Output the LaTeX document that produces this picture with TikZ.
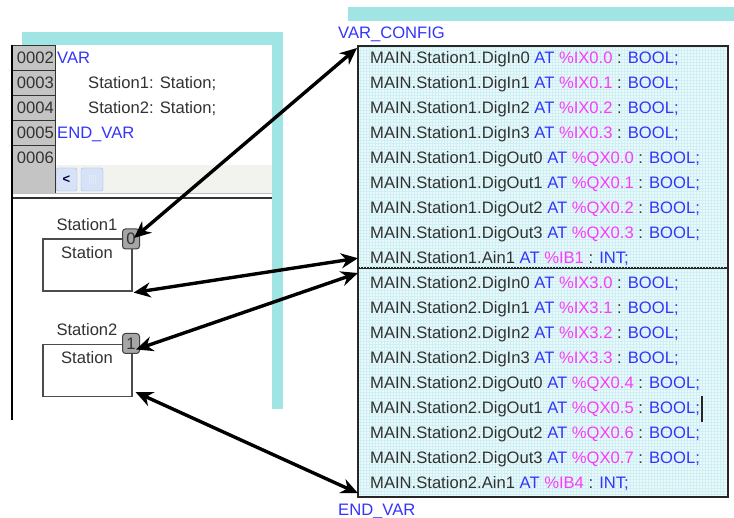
\documentclass[tikz,border=0pt]{standalone}
\usepackage{fontspec}
\setmainfont{Liberation Sans}
\usetikzlibrary{arrows.meta,patterns}

\definecolor{codeblue}{RGB}{52,52,250}
\definecolor{codemag}{RGB}{250,60,250}
\definecolor{codegray}{RGB}{50,50,50}
\definecolor{frameaqua}{RGB}{160,228,228}
\definecolor{cfgfill}{RGB}{236,249,251}
\definecolor{cfggrid}{RGB}{206,240,244}
\definecolor{gutter}{RGB}{196,196,196}
\definecolor{scrollbg}{RGB}{242,242,238}
\definecolor{btnfill}{RGB}{214,226,248}
\definecolor{btnedge}{RGB}{160,184,232}

\newcommand\codefont{\fontsize{16.6}{18}\selectfont}

% one line of the VAR_CONFIG listing: name, y baseline, variable, address, type
\newcommand\cfgrow[5]{%
  \node[code] (#1) at (370,#2) {MAIN.#3 \textcolor{codeblue}{AT} \textcolor{codemag}{\%#4} : \textcolor{codeblue}{#5;}};}

\begin{document}
\begin{tikzpicture}[x=1pt,y=-1pt,
  code/.style={anchor=base west, inner sep=0pt, font=\codefont, text=codegray},
  kw/.style={code, text=codeblue},
  lineno/.style={anchor=base east, inner sep=0pt, font=\codefont, text=codegray},
  numcell/.style={fill=gutter, draw=black!80, line width=0.9pt},
  fbbox/.style={draw=black!70, line width=1.2pt, fill=white, minimum width=89pt, minimum height=52pt, inner sep=0pt},
  badge/.style={draw=black!75, fill=black!35, rounded corners=3pt, line width=1pt,
                minimum width=17pt, minimum height=20pt, inner sep=0pt, font=\codefont, text=codegray},
  cfgbox/.style={draw=black!85, line width=1.2pt, anchor=north west, inner sep=0pt,
                 minimum width=369pt},
  conn/.style={line width=3.4pt, black, {Stealth[length=17pt,width=15pt]}-{Stealth[length=17pt,width=15pt]}}
]
\useasboundingbox (0,0) rectangle (734,518);
\clip (0,0) rectangle (734,518);
\fill[white] (0,0) rectangle (734,518);

% ---------- declaration editor (left) ----------
\fill[frameaqua] (22,32) rectangle (283,45);
\fill[frameaqua] (272,45) rectangle (283,409);
\fill[white] (12,45) rectangle (272,420);

% line number gutter
\foreach \k/\n in {0/0002,1/0003,2/0004,3/0005,4/0006}{
  \draw[numcell] (12,45+25*\k) rectangle (55,70+25*\k);
  \node[lineno] (ln\n) at (54,64+25*\k) {\n};
}
\node[kw] (kvar) at (57,64) {VAR};
\node[code] (decl1) at (88,89) {Station1: Station;};
\node[code] (decl2) at (88,114) {Station2: Station;};
\node[kw] (kend) at (57,139) {END\_VAR};

% horizontal scroll bar
\fill[scrollbg] (55,165) rectangle (272,193);
\fill[gutter] (12,163) rectangle (55,193);
\draw[black!80, line width=0.9pt] (55,163) -- (55,193);
\draw[rounded corners=2pt, fill=btnfill, draw=btnedge] (56.5,168) rectangle (77,191);
\node[font=\bfseries\fontsize{13}{13}\selectfont, text=black!75!blue, inner sep=0pt] (lbtn) at (66.5,179.5) {<};
\draw[rounded corners=2pt, fill=btnfill, draw=btnedge] (81,168) rectangle (103,191);
\foreach \gx in {89,91,93,95}{\draw[white!70!btnedge, line width=0.6pt] (\gx,175) -- (\gx,184);}
\draw[black!25, line width=1pt] (12,193.5) -- (272,193.5);
\draw[black!80, line width=2pt] (12,198.5) -- (272,198.5);
\draw[black, line width=1.3pt] (12,45) -- (12,420);

% function block instances
\node[code, anchor=base] (lab1) at (87,231) {Station1};
\node[fbbox] (st1) at (87.5,265) {};
\node[code, anchor=base] (typ1) at (87,259) {Station};
\node[badge] (b0) at (131,239) {0};

\node[code, anchor=base] (lab2) at (87,336) {Station2};
\node[fbbox] (st2) at (87.5,370.5) {};
\node[code, anchor=base] (typ2) at (87,364) {Station};
\node[badge] (b1) at (131,343.5) {1};

% ---------- configuration listing (right) ----------
\fill[frameaqua] (348,7) rectangle (734,21);
\node[kw] (vcfg) at (338,39) {VAR\_CONFIG};

\node[cfgbox, minimum height=221pt, fill=cfgfill] (cfg1) at (358,46) {};
\node[cfgbox, minimum height=229pt, fill=cfgfill] (cfg2) at (358,267) {};
\fill[pattern=grid, pattern color=cfggrid] (359,47) rectangle (726,495);
\draw[black!85, line width=1.2pt] (cfg1.north west) rectangle (cfg2.south east);
\draw[black!85, line width=1.2pt] (cfg1.south west) -- (cfg1.south east);

\cfgrow{c1}{64}{Station1.DigIn0}{IX0.0}{BOOL}
\cfgrow{c2}{89}{Station1.DigIn1}{IX0.1}{BOOL}
\cfgrow{c3}{114}{Station1.DigIn2}{IX0.2}{BOOL}
\cfgrow{c4}{139}{Station1.DigIn3}{IX0.3}{BOOL}
\cfgrow{c5}{164}{Station1.DigOut0}{QX0.0}{BOOL}
\cfgrow{c6}{189}{Station1.DigOut1}{QX0.1}{BOOL}
\cfgrow{c7}{214}{Station1.DigOut2}{QX0.2}{BOOL}
\cfgrow{c8}{239}{Station1.DigOut3}{QX0.3}{BOOL}
\cfgrow{c9}{264}{Station1.Ain1}{IB1}{INT}
\cfgrow{c10}{289}{Station2.DigIn0}{IX3.0}{BOOL}
\cfgrow{c11}{314}{Station2.DigIn1}{IX3.1}{BOOL}
\cfgrow{c12}{339}{Station2.DigIn2}{IX3.2}{BOOL}
\cfgrow{c13}{364}{Station2.DigIn3}{IX3.3}{BOOL}
\cfgrow{c14}{389}{Station2.DigOut0}{QX0.4}{BOOL}
\cfgrow{c15}{414}{Station2.DigOut1}{QX0.5}{BOOL}
\cfgrow{c16}{439}{Station2.DigOut2}{QX0.6}{BOOL}
\cfgrow{c17}{464}{Station2.DigOut3}{QX0.7}{BOOL}
\cfgrow{c18}{489}{Station2.Ain1}{IB4}{INT}

% text cursor
\draw[black!85, line width=1.8pt] (702,396) -- (702,422);

\node[kw] (vend) at (338,515) {END\_VAR};

% ---------- mapping arrows ----------
\draw[conn] ([shift={(3pt,1pt)}]b0.center) -- ([shift={(-1pt,-2pt)}]cfg1.north west);
\draw[conn] ([shift={(1pt,-1pt)}]st1.south east) -- ([yshift=10pt]cfg1.south west);
\draw[conn] ([shift={(5pt,-6pt)}]b1.center) -- ([yshift=-6pt]cfg2.north west);
\draw[conn] ([shift={(3pt,5pt)}]st2.south east) -- ([yshift=4pt]cfg2.south west);
\end{tikzpicture}
\end{document}
